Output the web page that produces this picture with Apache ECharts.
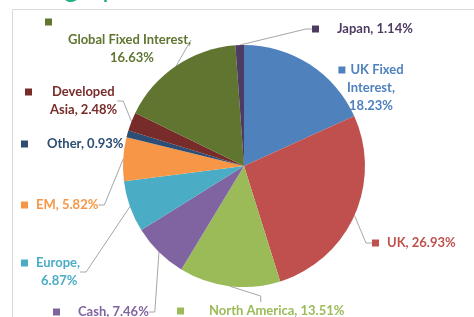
<!DOCTYPE html>
<html>
<head>
<meta charset="utf-8">
<script src="https://cdn.jsdelivr.net/npm/echarts@6/dist/echarts.min.js"></script>
<style>
  html, body { margin: 0; padding: 0; background: #fff; }
  #chart { width: 474px; height: 317px; }
</style>
</head>
<body>
<div id="chart"></div>
<script>
// regions, clockwise from 12 o'clock
const regions = ['UK Fixed Interest', 'UK', 'North America', 'Cash', 'Europe', 'EM', 'Other', 'Developed Asia', 'Global Fixed Interest', 'Japan'];
const weights = [18.23, 26.93, 13.51, 7.46, 6.87, 5.82, 0.93, 2.48, 16.63, 1.14];
const colors = ['#4F81BD', '#C0504D', '#9BBB59', '#8064A2', '#4BACC6', '#F79646', '#2C4D75', '#772C2A', '#5F7530', '#4D3B62'];

// label placement (top-left of the label box, first one is centred)
const labelPos = [[371, 61], [372, 234], [177, 302], [53, 303], [21, 254], [21, 196], [21, 135], [25, 83], [45, 13], [312, 20]];
const keyGap = [5, 8, 25, 18, 8, 8, 19, 20, 0, 18];
const indent = [0, 0, 0, 0, 20, 0, 0, 25, 23, 0];
const noLine = [0, 6];

const FONT = 'Lato';

function labelText(i) {
  const v = weights[i].toFixed(2) + '%';
  const head = '{sq|}{gap|}';
  switch (i) {
    case 0: return head + '{t|UK Fixed}\n{t|Interest,}\n{t|' + v + '}';
    case 4: return head + '{t|Europe,}\n{ind|}{t|' + v + '}';
    case 7: return head + '{t|Developed}\n{ind|}{t|Asia, ' + v + '}';
    case 8: return '{sq|}\n{ind|}{t|Global Fixed Interest,}\n{ind2|}{t|' + v + '}';
    default: return head + '{t|' + regions[i] + ', ' + v + '}';
  }
}

let chart = echarts.init(document.getElementById('chart'));

let pieData = regions.map(function (name, i) {
  return {
    name: name,
    value: weights[i],
    itemStyle: { color: colors[i] },
    labelLine: { show: noLine.indexOf(i) < 0 },
    label: {
      rich: {
        sq: { width: 7, height: 7, backgroundColor: colors[i] },
        gap: { width: keyGap[i] },
        ind: { width: indent[i] },
        ind2: { width: 65 },
        t: { color: colors[i], fontFamily: FONT, fontWeight: 'bold', fontSize: 13, lineHeight: 18 }
      }
    }
  };
});

let option = {
  animation: false,
  backgroundColor: '#fff',
  graphic: [
    {
      type: 'rect',
      shape: { x: 12.5, y: 9.5, width: 480, height: 330 },
      style: { fill: 'none', stroke: '#D9D9D9', lineWidth: 1 },
      silent: true
    },
    {
      type: 'text',
      left: 13,
      top: -26,
      style: { text: 'Geographic allocation', fill: '#1fb27c', font: '28px ' + FONT }
    }
  ],
  series: [
    {
      type: 'pie',
      center: [244, 166],
      radius: 121,
      startAngle: 90,
      clockwise: true,
      avoidLabelOverlap: false,
      data: pieData,
      label: {
        show: true,
        position: 'outside',
        fontFamily: FONT,
        fontWeight: 'bold',
        fontSize: 13,
        lineHeight: 18,
        formatter: function (p) { return labelText(p.dataIndex); }
      },
      labelLine: {
        length: 10,
        length2: 6,
        lineStyle: { color: '#A6A6A6', width: 1 }
      },
      labelLayout: function (p) {
        let pos = labelPos[p.dataIndex];
        return { x: pos[0], y: pos[1], align: p.dataIndex === 0 ? 'center' : 'left', verticalAlign: 'top' };
      },
      emphasis: { disabled: true }
    }
  ]
};

chart.setOption(option);
</script>
</body>
</html>
